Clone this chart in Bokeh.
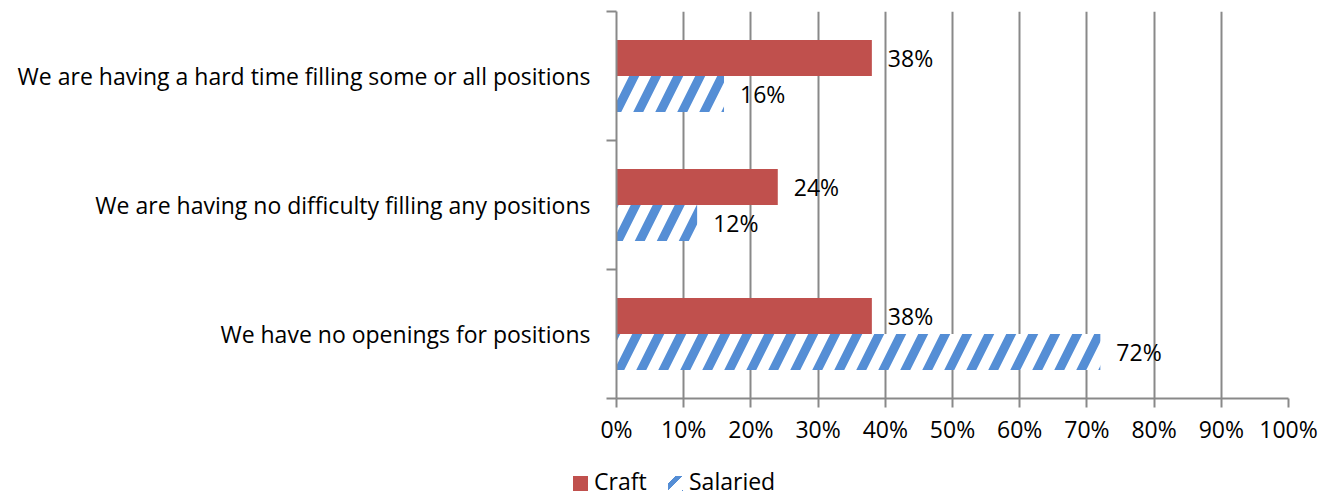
from bokeh.plotting import figure
from bokeh.models import (Range1d, FixedTicker, PrintfTickFormatter, ColumnDataSource, Div)
from bokeh.layouts import column
from bokeh.core.properties import value
from bokeh.embed import file_html
from bokeh.resources import INLINE

categories = ["We are having a hard time filling some or all positions",
              "We are having no difficulty filling any positions",
              "We have no openings for positions"]
craft = [38, 24, 38]
salaried = [16, 12, 72]
x_ticks = [0, 10, 20, 30, 40, 50, 60, 70, 80, 90, 100]
series_names = ["Craft", "Salaried"]

FONT = "Open Sans"
FS = "23px"
GRAY = "#898989"
RED = "#C0504D"
BLUE = "#558ED5"
W = 1328

n = len(categories)
centers = [2 * (n - 1 - i) + 1 for i in range(n)]
off = 0.28
bar_h = 0.56

p = figure(frame_width=672, frame_height=387, output_backend="svg", toolbar_location=None,
           x_range=Range1d(0, 100), y_range=Range1d(0, 2 * n),
           min_border_left=616, min_border_right=W - 616 - 672, min_border_top=11,
           min_border_bottom=55)
p.outline_line_color = None
p.background_fill_color = "white"

src_c = ColumnDataSource(dict(y=[c + off for c in centers], v=craft,
                              lab=[f"{v}%" for v in craft]))
src_s = ColumnDataSource(dict(y=[c - off for c in centers], v=salaried,
                              lab=[f"{v}%" for v in salaried]))

p.hbar(y="y", right="v", left=0, height=bar_h, source=src_c,
       fill_color=RED, line_color=None, legend_label=series_names[0])
p.hbar(y="y", right="v", left=0, height=bar_h, source=src_s,
       fill_color="white", line_color=None, hatch_pattern="/",
       hatch_color=BLUE, hatch_weight=9, hatch_scale=44, legend_label=series_names[1])
p.legend.visible = False  # legend is drawn in the strip below the chart

for src in (src_c, src_s):
    p.text(x="v", y="y", text="lab", source=src, x_offset=16,
           text_baseline="middle", text_align="left", text_font=value(FONT),
           text_font_size=FS, text_color="black")

p.xaxis.ticker = FixedTicker(ticks=x_ticks, minor_ticks=[])
p.xaxis.formatter = PrintfTickFormatter(format="%d%%")
p.xaxis.axis_line_color = GRAY
p.xaxis.axis_line_width = 2
p.xaxis.major_tick_line_color = GRAY
p.xaxis.major_tick_line_width = 2
p.xaxis.major_tick_out = 9
p.xaxis.major_tick_in = 0
p.xaxis.major_label_standoff = 5
p.xaxis.major_label_text_font = FONT
p.xaxis.major_label_text_font_size = FS
p.xaxis.major_label_text_color = "black"

p.yaxis.ticker = FixedTicker(ticks=centers, minor_ticks=list(range(0, 2 * n + 1, 2)))
p.yaxis.major_label_overrides = {c: lab for c, lab in zip(centers, categories)}
p.yaxis.axis_line_color = GRAY
p.yaxis.axis_line_width = 2
p.yaxis.major_tick_out = 0
p.yaxis.major_tick_in = 0
p.yaxis.major_tick_line_color = None
p.yaxis.minor_tick_out = 10
p.yaxis.minor_tick_in = 0
p.yaxis.minor_tick_line_color = GRAY
p.yaxis.minor_tick_line_width = 2
p.yaxis.major_label_standoff = 16
p.yaxis.major_label_text_font = FONT
p.yaxis.major_label_text_font_size = FS
p.yaxis.major_label_text_color = "black"

p.xgrid.ticker = FixedTicker(ticks=x_ticks, minor_ticks=[])
p.xgrid.grid_line_color = GRAY
p.xgrid.grid_line_width = 2
p.ygrid.grid_line_color = None

# legend strip (HTML) below the chart
swatches = [
    f"background:{RED};",
    f"background:repeating-linear-gradient(135deg,#ffffff 0px,#ffffff 5px,{BLUE} 5px,{BLUE} 10px,#ffffff 10px,#ffffff 15.5px);",
]
item_left = [573, 668]
items_html = ""
for name, sw, lx in zip(series_names, swatches, item_left):
    items_html += (
        f'<span style="position:absolute;left:{lx}px;top:23px;width:15px;height:15px;{sw}"></span>'
        f'<span style="position:absolute;left:{lx + 21}px;top:16px;height:24px;line-height:24px;'
        f'white-space:nowrap;">{name}</span>'
    )
legend_html = (
    f'<div style="position:relative;width:{W}px;height:40px;font-family:\'{FONT}\';'
    f'font-size:{FS};color:#000000;">{items_html}</div>'
)
legend_div = Div(text=legend_html, width=W, height=40, margin=0)

layout = column(p, legend_div, spacing=0)
open("out.html", "w").write(file_html(layout, INLINE))
